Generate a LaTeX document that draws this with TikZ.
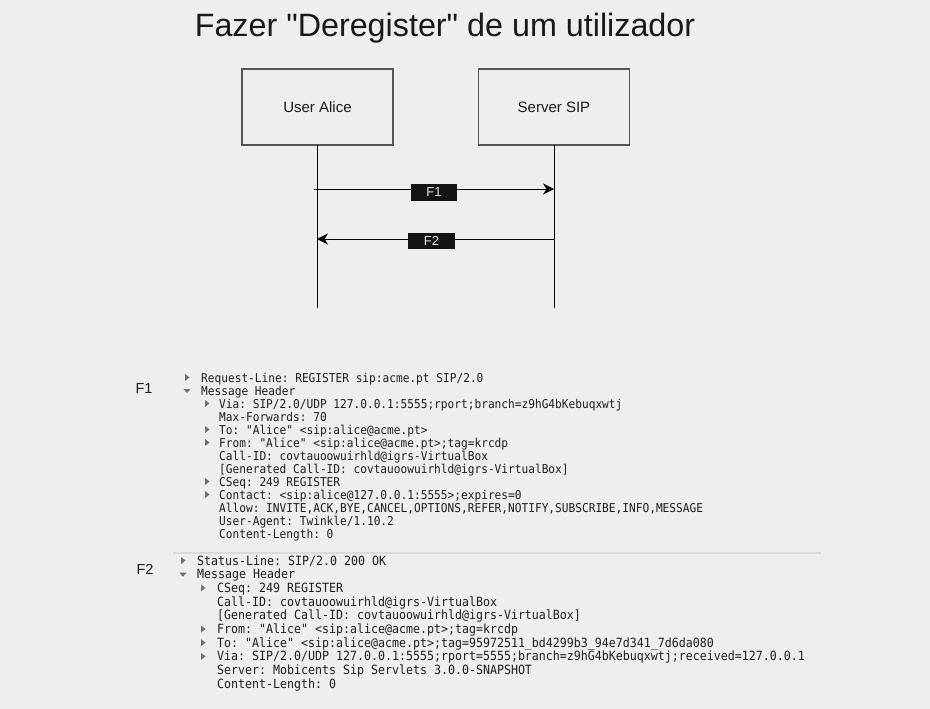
\documentclass[tikz,border=0pt]{standalone}
\usepackage{fontspec}
\setmainfont{Liberation Sans}
\newfontfamily\wsmono[FakeStretch=0.915]{DejaVu Sans Mono}
\usetikzlibrary{arrows.meta}
\definecolor{bg}{HTML}{EEEEEE}
\definecolor{boxline}{HTML}{555555}
\definecolor{wstext}{HTML}{1E1E1E}
\definecolor{wstri}{HTML}{707070}
\definecolor{sepline}{HTML}{DADADA}
\definecolor{lblfill}{HTML}{141414}
\definecolor{lbltext}{HTML}{E6E6E6}
\frenchspacing
\newcommand\straightdq{\XeTeXglyph\XeTeXglyphindex "quotedbl" \relax}
\begin{document}
\begin{tikzpicture}[x=1pt,y=-1pt,
  actor/.style={draw=boxline,line width=1.3pt,fill=bg,minimum width=151pt,minimum height=76pt,inner sep=0pt,font=\fontsize{15}{18}\selectfont,text=black!90},
  lifeline/.style={draw=black,line width=1pt},
  msg/.style={draw=black,line width=1pt,-{Stealth[length=11pt,width=11pt,inset=3.5pt]}},
  msglabel/.style={fill=lblfill,text=lbltext,inner sep=0pt,font=\fontsize{13}{15}\selectfont},
  sidelabel/.style={font=\fontsize{14.5}{17}\selectfont,text=black!90,inner sep=0pt},
  wsA/.style={anchor=base west,inner sep=0pt,text=wstext,font=\wsmono\frenchspacing\fontsize{12.2}{13}\selectfont},
  wsB/.style={anchor=base west,inner sep=0pt,text=wstext,font=\wsmono\frenchspacing\fontsize{12.7}{13}\selectfont},
  tri/.style={fill=wstri}
]
\fill[bg] (0,0) rectangle (930,709);
\useasboundingbox (0,0) rectangle (930,709);

% title
\node[anchor=base,inner sep=0pt,font=\fontsize{32.3}{38}\selectfont,text=black!90] (title) at (445,37) {Fazer \straightdq Deregister\straightdq{} de um utilizador};

% actors
\node[actor] (alice) at (317.5,107) {User Alice};
\node[actor] (server) at (554,107) {Server SIP};
\coordinate (aliceTop) at (317,145);
\coordinate (aliceEnd) at (317,308);
\coordinate (serverTop) at (554,145);
\coordinate (serverEnd) at (554,308);
\draw[lifeline] (aliceTop) -- (aliceEnd);
\draw[lifeline] (serverTop) -- (serverEnd);

% messages
\coordinate (f1s) at (314,189);
\coordinate (f1e) at (554,189);
\coordinate (f2s) at (554,239);
\coordinate (f2e) at (317,239);
\draw[msg] (f1s) -- (f1e);
\draw[msg] (f2s) -- (f2e);
\node[msglabel,minimum width=46pt,minimum height=17pt] (l1) at (434,192.5) {F1};
\node[msglabel,minimum width=47pt,minimum height=16pt] (l2) at (431.5,241) {F2};

% side labels
\node[sidelabel] (s1) at (144,389) {F1};
\node[sidelabel] (s2) at (145,569) {F2};

% F1 block
\def\rtri#1#2{\fill[tri] (#1-2,#2-8) -- (#1+2.5,#2-4.5) -- (#1-2,#2-1) -- cycle;}
\def\dtri#1#2{\fill[tri] (#1-3.5,#2-6) -- (#1+3.5,#2-6) -- (#1,#2-2) -- cycle;}

\rtri{187}{382}
\node[wsA] (a1) at (201,382) {Request-Line: REGISTER sip:acme.pt SIP/2.0};
\dtri{187}{395}
\node[wsA] (a2) at (201,395) {Message Header};
\rtri{207}{408}
\node[wsA] (a3) at (219,408) {Via: SIP/2.0/UDP 127.0.0.1:5555;rport;branch=z9hG4bKebuqxwtj};
\node[wsA] (a4) at (219,421) {Max-Forwards: 70};
\rtri{207}{434}
\node[wsA] (a5) at (219,434) {To: "Alice" <sip:alice@acme.pt>};
\rtri{207}{447}
\node[wsA] (a6) at (219,447) {From: "Alice" <sip:alice@acme.pt>;tag=krcdp};
\node[wsA] (a7) at (219,460) {Call-ID: covtauoowuirhld@igrs-VirtualBox};
\node[wsA] (a8) at (219,473) {[Generated Call-ID: covtauoowuirhld@igrs-VirtualBox]};
\rtri{207}{486}
\node[wsA] (a9) at (219,486) {CSeq: 249 REGISTER};
\rtri{207}{499}
\node[wsA] (a10) at (219,499) {Contact: <sip:alice@127.0.0.1:5555>;expires=0};
\node[wsA] (a11) at (219,512) {Allow: INVITE,ACK,BYE,CANCEL,OPTIONS,REFER,NOTIFY,SUBSCRIBE,INFO,MESSAGE};
\node[wsA] (a12) at (219,525) {User-Agent: Twinkle/1.10.2};
\node[wsA] (a13) at (219,538) {Content-Length: 0};

% separator
\coordinate (sepA) at (173,553);
\coordinate (sepB) at (821,553);
\draw[sepline,line width=2pt] (sepA) -- (sepB);

% F2 block
\rtri{183}{565}
\node[wsB] (b1) at (197,565) {Status-Line: SIP/2.0 200 OK};
\dtri{183}{578.7}
\node[wsB] (b2) at (197,578.7) {Message Header};
\rtri{203}{592.4}
\node[wsB] (b3) at (217,592.4) {CSeq: 249 REGISTER};
\node[wsB] (b4) at (217,606.1) {Call-ID: covtauoowuirhld@igrs-VirtualBox};
\node[wsB] (b5) at (217,619.8) {[Generated Call-ID: covtauoowuirhld@igrs-VirtualBox]};
\rtri{203}{633.5}
\node[wsB] (b6) at (217,633.5) {From: "Alice" <sip:alice@acme.pt>;tag=krcdp};
\rtri{203}{647.2}
\node[wsB] (b7) at (217,647.2) {To: "Alice" <sip:alice@acme.pt>;tag=95972511\_bd4299b3\_94e7d341\_7d6da080};
\rtri{203}{660.9}
\node[wsB] (b8) at (217,660.9) {Via: SIP/2.0/UDP 127.0.0.1:5555;rport=5555;branch=z9hG4bKebuqxwtj;received=127.0.0.1};
\node[wsB] (b9) at (217,674.6) {Server: Mobicents Sip Servlets 3.0.0-SNAPSHOT};
\node[wsB] (b10) at (217,688.3) {Content-Length: 0};
\end{tikzpicture}
\end{document}
